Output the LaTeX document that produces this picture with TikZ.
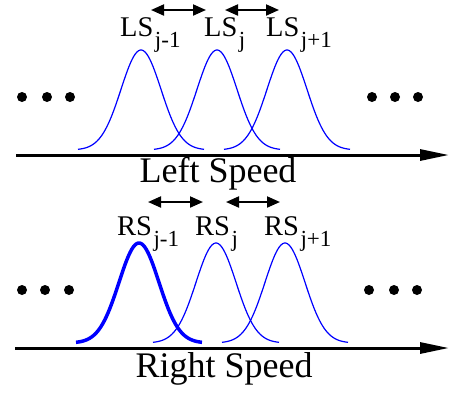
\documentclass[tikz,border=0pt]{standalone}
\usepackage{fontspec}
\setmainfont{Liberation Serif}
\usetikzlibrary{arrows.meta}

\newcommand{\speedlab}[2]{#1\kern1.5pt\raisebox{-11pt}{\fontsize{23}{23}\selectfont #2}}

\begin{document}
\begin{tikzpicture}[
    x=1pt, y=-1pt,
    dot/.style={circle, fill, inner sep=0pt, minimum size=10pt},
    lab/.style={anchor=base west, inner sep=0pt, font=\fontsize{28.5}{28.5}\selectfont},
    title/.style={anchor=base, inner sep=0pt, font=\fontsize{36}{36}\selectfont},
    axis/.style={line width=3pt, -{Triangle[length=29pt,width=11pt]}},
    gap/.style={line width=2pt, {Triangle[length=13pt,width=11pt]}-{Triangle[length=13pt,width=11pt]}},
    bump/.style={blue, line width=1.2pt, domain=-63:63, samples=80, smooth}
]
  \useasboundingbox (0,0) rectangle (449,392);

  % --- LEFT SPEED ---
  \node[lab] (ls1) at (120,36) {\speedlab{LS}{j-1}};
  \node[lab] (ls2) at (204,36) {\speedlab{LS}{j}};
  \node[lab] (ls3) at (266,36) {\speedlab{LS}{j+1}};

  \coordinate (la1) at (151,10);
  \coordinate (la2) at (206,10);
  \coordinate (la3) at (225,10);
  \coordinate (la4) at (279,10);
  \draw[gap] (la1) -- (la2);
  \draw[gap] (la3) -- (la4);

  \node[dot] (ld1) at (22,97) {};
  \node[dot] (ld2) at (47,97) {};
  \node[dot] (ld3) at (70,97) {};
  \node[dot] (rd1) at (372,97) {};
  \node[dot] (rd2) at (395,97) {};
  \node[dot] (rd3) at (418,97) {};

  \draw[bump] plot ({141+\x},{150-100*exp(-((\x)*(\x))/800)});
  \draw[bump] plot ({217+\x},{150-100*exp(-((\x)*(\x))/800)});
  \draw[bump] plot ({287+\x},{150-100*exp(-((\x)*(\x))/800)});

  \coordinate (lx0) at (16,155);
  \coordinate (lx1) at (449,155);
  \draw[axis] (lx0) -- (lx1);
  \node[title] (lt) at (218,182) {Left Speed};

  % --- RIGHT SPEED ---
  \node[lab] (rs1) at (117,235) {\speedlab{RS}{j-1}};
  \node[lab] (rs2) at (195,235) {\speedlab{RS}{j}};
  \node[lab] (rs3) at (264,235) {\speedlab{RS}{j+1}};

  \coordinate (ra1) at (148,202);
  \coordinate (ra2) at (203,202);
  \coordinate (ra3) at (226,202);
  \coordinate (ra4) at (280,202);
  \draw[gap] (ra1) -- (ra2);
  \draw[gap] (ra3) -- (ra4);

  \node[dot] (ld4) at (22,290) {};
  \node[dot] (ld5) at (45,290) {};
  \node[dot] (ld6) at (69,290) {};
  \node[dot] (rd4) at (369,290) {};
  \node[dot] (rd5) at (394,290) {};
  \node[dot] (rd6) at (417,290) {};

  \draw[bump, line width=3.5pt] plot ({139+\x},{343-100*exp(-((\x)*(\x))/800)});
  \draw[bump] plot ({216+\x},{343-100*exp(-((\x)*(\x))/800)});
  \draw[bump] plot ({285+\x},{343-100*exp(-((\x)*(\x))/800)});

  \coordinate (rx0) at (15,348);
  \coordinate (rx1) at (449,348);
  \draw[axis] (rx0) -- (rx1);
  \node[title] (rt) at (224,377) {Right Speed};
\end{tikzpicture}
\end{document}
